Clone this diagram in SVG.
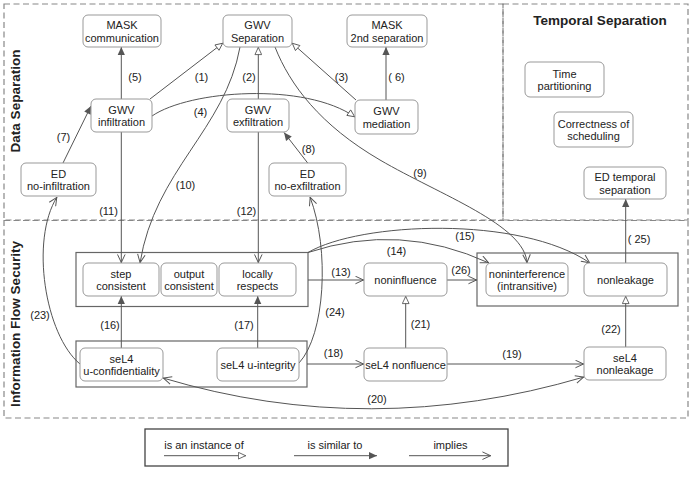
<svg xmlns="http://www.w3.org/2000/svg" width="692" height="477" viewBox="0 0 692 477">
<defs>
<style>
text{font-family:"Liberation Sans",Arial,sans-serif;fill:#222;}
.n rect{fill:#fff;stroke:#999;stroke-width:1;}
.n text{font-size:11px;text-anchor:middle;}
.lbl{font-size:11px;text-anchor:middle;}
.title{font-size:13.5px;font-weight:bold;text-anchor:middle;}
.area{fill:none;stroke:#888;stroke-width:1.2;stroke-dasharray:6 3.5;}
.grp{fill:none;stroke:#666;stroke-width:1.2;}
.e{fill:none;stroke:#555;stroke-width:1;}
.inst{marker-end:url(#hollow);}
.sim{marker-end:url(#filled);}
.imp{marker-end:url(#open);}
</style>
<marker id="hollow" viewBox="0 0 10 10" refX="10" refY="5" markerWidth="9" markerHeight="8" markerUnits="userSpaceOnUse" orient="auto">
<path d="M0.5,0.8 L9.5,5 L0.5,9.2 z" fill="#fff" stroke="#555" stroke-width="1.1"/>
</marker>
<marker id="filled" viewBox="0 0 10 10" refX="10" refY="5" markerWidth="9" markerHeight="8" markerUnits="userSpaceOnUse" orient="auto">
<path d="M0,0.5 L10,5 L0,9.5 z" fill="#555"/>
</marker>
<marker id="open" viewBox="0 0 10 10" refX="10" refY="5" markerWidth="9" markerHeight="9" markerUnits="userSpaceOnUse" orient="auto-start-reverse">
<path d="M0.5,0.8 L9.5,5 L0.5,9.2" fill="none" stroke="#555" stroke-width="1.1"/>
</marker>
</defs>
<rect width="692" height="477" fill="#fff"/>

<g id="areas">
<rect class="area" x="4" y="4" width="499" height="216"/>
<rect class="area" x="503" y="4" width="185" height="216"/>
<rect class="area" x="4" y="220.5" width="684" height="197.5"/>
<text class="title" transform="translate(20,101) rotate(-90)">Data Separation</text>
<text class="title" transform="translate(20,324) rotate(-90)">Information Flow Security</text>
<text class="title" x="600" y="25">Temporal Separation</text>
</g>

<g id="groups">
<rect class="grp" x="76" y="252.5" width="232" height="54"/>
<rect class="grp" x="76" y="341" width="231" height="46"/>
<rect class="grp" x="477" y="253" width="201" height="53"/>
</g>

<g id="connectors">
<path id="c1" class="e inst" d="M150,99 L223,43"/>
<path id="c2" class="e inst" d="M258.3,99 L258.3,47"/>
<path id="c3" class="e inst" d="M356,100 L292,43"/>
<path id="c4" class="e inst" d="M152,116 C190,90 305,82 355,117"/>
<path id="c5" class="e sim" d="M121.3,99 L121.3,47"/>
<path id="c6" class="e sim" d="M386,100 L386,47"/>
<path id="c7" class="e sim" d="M63,163 L91,106"/>
<path id="c8" class="e sim" d="M307.7,163 L284,132.5"/>
<path id="c9" class="e imp" d="M275,47 C290,85 320,125 380,160 S525,225 527,263"/>
<path id="c10" class="e imp" d="M240,47 C225,130 155,170 140,263"/>
<path id="c11" class="e imp" d="M121.3,132 L121.3,263"/>
<path id="c12" class="e imp" d="M258.3,132 L258.3,263"/>
<path id="c13" class="e imp" d="M308,280 L364,280"/>
<path id="c14" class="e imp" d="M308,252.5 Q400,222 489,263"/>
<path id="c15" class="e imp" d="M308,252.5 C360,222 520,215 590,263"/>
<path id="c16" class="e sim" d="M121.3,348 L121.3,296"/>
<path id="c17" class="e sim" d="M257.7,348 L257.7,296"/>
<path id="c18" class="e imp" d="M307,364 L364,364"/>
<path id="c19" class="e imp" d="M447,364 L584,364"/>
<path id="c20" class="e imp" style="marker-start:url(#open)" d="M163,378 Q370,440 584,377"/>
<path id="c21" class="e inst" d="M405.7,348 L405.7,296"/>
<path id="c22" class="e inst" d="M625.7,347 L625.7,296"/>
<path id="c23" class="e imp" d="M80,364 C45,335 30,240 57,197"/>
<path id="c24" class="e imp" d="M299,363 C325,335 330,250 310,197"/>
<path id="c25" class="e sim" d="M625.7,263 L625.7,199"/>
<path id="c26" class="e imp" d="M447,280 L477,280"/>
</g>

<g id="edge-labels">
<text class="lbl" x="201.5" y="80.5">(1)</text>
<text class="lbl" x="249" y="80.5">(2)</text>
<text class="lbl" x="341.5" y="80.5">(3)</text>
<text class="lbl" x="200.5" y="116">(4)</text>
<text class="lbl" x="135" y="80.5">(5)</text>
<text class="lbl" x="396.5" y="80.5">( 6)</text>
<text class="lbl" x="63.5" y="140.5">(7)</text>
<text class="lbl" x="308.5" y="153">(8)</text>
<text class="lbl" x="420" y="177">(9)</text>
<text class="lbl" x="185.5" y="189">(10)</text>
<text class="lbl" x="108.5" y="214.5">(11)</text>
<text class="lbl" x="246.5" y="214.5">(12)</text>
<text class="lbl" x="341" y="275.5">(13)</text>
<text class="lbl" x="396.5" y="254.5">(14)</text>
<text class="lbl" x="465" y="240">(15)</text>
<text class="lbl" x="110" y="329">(16)</text>
<text class="lbl" x="244" y="329">(17)</text>
<text class="lbl" x="333.5" y="357">(18)</text>
<text class="lbl" x="512" y="357.5">(19)</text>
<text class="lbl" x="377" y="403">(20)</text>
<text class="lbl" x="420.5" y="328">(21)</text>
<text class="lbl" x="611" y="333">(22)</text>
<text class="lbl" x="40" y="319">(23)</text>
<text class="lbl" x="335" y="315.5">(24)</text>
<text class="lbl" x="639" y="243">( 25)</text>
<text class="lbl" x="461" y="274">(26)</text>
</g>

<g id="mask_comm" class="n"><rect x="83" y="15" width="78" height="32" rx="5"/><text x="122" y="29">MASK</text><text x="122" y="41.5">communication</text></g>
<g id="gwv_sep" class="n"><rect x="223" y="15" width="69" height="32" rx="5"/><text x="257.5" y="29">GWV</text><text x="257.5" y="41.5">Separation</text></g>
<g id="mask_2nd" class="n"><rect x="347" y="15" width="80" height="32" rx="5"/><text x="387" y="29">MASK</text><text x="387" y="41.5">2nd separation</text></g>
<g id="gwv_inf" class="n"><rect x="91" y="99" width="61" height="33" rx="5"/><text x="121.5" y="113.5">GWV</text><text x="121.5" y="126">infiltration</text></g>
<g id="gwv_exf" class="n"><rect x="227" y="99" width="62" height="33" rx="5"/><text x="258" y="113.5">GWV</text><text x="258" y="126">exfiltration</text></g>
<g id="gwv_med" class="n"><rect x="355" y="100" width="63" height="34" rx="5"/><text x="386.5" y="115">GWV</text><text x="386.5" y="127.5">mediation</text></g>
<g id="ed_noinf" class="n"><rect x="21" y="163" width="75" height="33" rx="5"/><text x="58.5" y="177.5">ED</text><text x="58.5" y="190">no-infiltration</text></g>
<g id="ed_noexf" class="n"><rect x="269" y="163" width="77" height="33" rx="5"/><text x="307.5" y="177.5">ED</text><text x="307.5" y="190">no-exfiltration</text></g>
<g id="time_part" class="n"><rect x="525" y="62" width="79" height="35" rx="5"/><text x="564.5" y="77.5">Time</text><text x="564.5" y="90">partitioning</text></g>
<g id="correct_sched" class="n"><rect x="554" y="112" width="79" height="35" rx="5"/><text x="593.5" y="127.5">Correctness of</text><text x="593.5" y="140">scheduling</text></g>
<g id="ed_temp" class="n"><rect x="584" y="167" width="82" height="32" rx="5"/><text x="625" y="181">ED temporal</text><text x="625" y="193.5">separation</text></g>
<g id="step_cons" class="n"><rect x="83" y="263" width="76" height="33" rx="5"/><text x="121" y="277.5">step</text><text x="121" y="290">consistent</text></g>
<g id="output_cons" class="n"><rect x="161" y="263" width="56" height="33" rx="5"/><text x="189" y="277.5">output</text><text x="189" y="290">consistent</text></g>
<g id="loc_resp" class="n"><rect x="219" y="263" width="77" height="33" rx="5"/><text x="257.5" y="277.5">locally</text><text x="257.5" y="290">respects</text></g>
<g id="noninfl" class="n"><rect x="364" y="263" width="83" height="33" rx="5"/><text x="405.5" y="283.5">noninfluence</text></g>
<g id="nonint" class="n"><rect x="486" y="263" width="82" height="33" rx="5"/><text x="527" y="277.5">noninterference</text><text x="527" y="290">(intransitive)</text></g>
<g id="nonleak" class="n"><rect x="584" y="263" width="83" height="33" rx="5"/><text x="625.5" y="283.5">nonleakage</text></g>
<g id="sel4_uconf" class="n"><rect x="80" y="348" width="83" height="33" rx="5"/><text x="121.5" y="362.5">seL4</text><text x="121.5" y="375">u-confidentiality</text></g>
<g id="sel4_uint" class="n"><rect x="217" y="348" width="82" height="33" rx="5"/><text x="258" y="368.5">seL4 u-integrity</text></g>
<g id="sel4_nonfl" class="n"><rect x="364" y="348" width="83" height="33" rx="5"/><text x="405.5" y="368.5">seL4 nonfluence</text></g>
<g id="sel4_nonleak" class="n"><rect x="584" y="347" width="82" height="33" rx="5"/><text x="625" y="361.5">seL4</text><text x="625" y="374">nonleakage</text></g>

<g id="legend">
<rect x="145" y="429" width="363" height="37" fill="#fff" stroke="#444" stroke-width="1.3"/>
<text class="lbl" x="204" y="449">is an instance of</text>
<text class="lbl" x="335" y="449">is similar to</text>
<text class="lbl" x="450.5" y="449">implies</text>
<path class="e inst" d="M164,455.7 L246,455.7"/>
<path class="e sim" d="M294,455.7 L377,455.7"/>
<path class="e imp" d="M409,455.7 L491,455.7"/>
</g>
</svg>
